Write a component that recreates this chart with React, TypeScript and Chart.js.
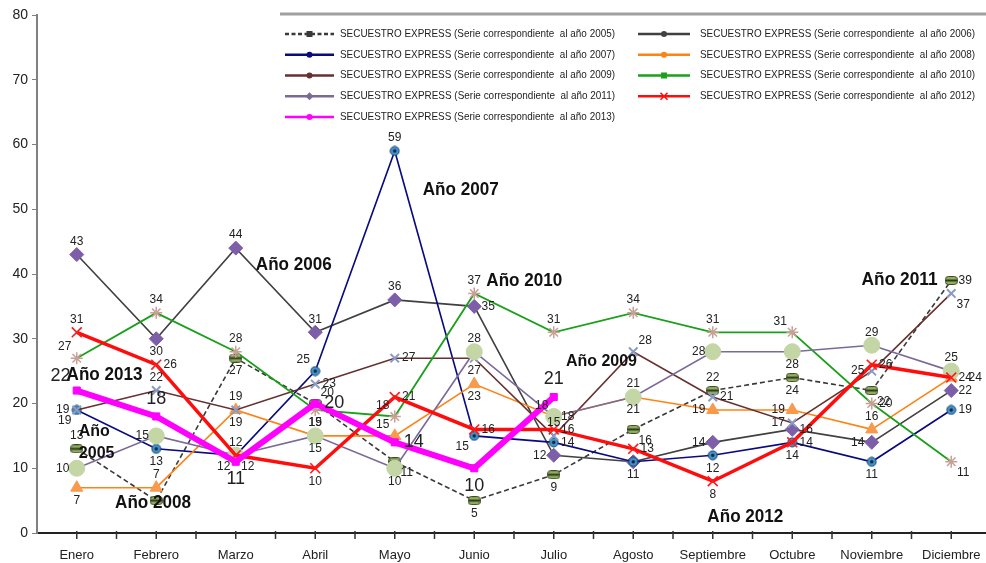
import React, { useEffect, useRef } from 'react';
import { Chart, registerables } from 'chart.js';
Chart.register(...registerables);

const months = ['Enero', 'Febrero', 'Marzo', 'Abril', 'Mayo', 'Junio', 'Julio', 'Agosto', 'Septiembre', 'Octubre', 'Noviembre', 'Diciembre'];
const years = ['2005', '2006', '2007', '2008', '2009', '2010', '2011', '2012', '2013'];

const s2005 = [13, 5, 27, 20, 11, 5, 9, 16, 22, 24, 22, 39];
const s2006 = [43, 30, 44, 31, 36, 35, 12, 11, 14, 16, 14, 22];
const s2007 = [19, 13, 12, 25, 59, 15, 14, 11, 12, 14, 11, 19];
const s2008 = [7, 7, 19, 15, 15, 23, 18, 21, 19, 19, 16, 24];
const s2009 = [19, 22, 19, 23, 27, 27, 15, 28, 21, 17, 25, 37];
const s2010 = [27, 34, 28, 19, 18, 37, 31, 34, 31, 31, 20, 11];
const s2011 = [10, 15, 12, 15, 10, 28, 18, 21, 28, 28, 29, 25];
const s2012 = [31, 26, 12, 10, 21, 16, 16, 13, 8, 14, 26, 24];
const s2013 = [22, 18, 11, 20, 14, 10, 21];

const allSeries = [s2005, s2006, s2007, s2008, s2009, s2010, s2011, s2012, s2013];

// label placement codes per point (styling)
const labelPos = [
  ['t', 'n', 'b', 'tr', 'br', 'b', 'b', 'br', 't', 'b', 'br', 'r'],
  ['t', 'b', 't', 't', 't', 'r', 'l', 'n', 'l', 'r', 'l', 'r'],
  ['bl', 'b', 't', 'tl', 't', 'bl', 'r', 'b', 'b', 'r', 'b', 'r'],
  ['b', 't', 'b', 'b', 'tl', 'b', 'tl', 'b', 'l', 'l', 't', 'rr'],
  ['l', 't', 't', 'r', 'r', 'b', 't', 'tr', 'r', 'l', 'l', 'br'],
  ['tl', 't', 't', 'b', 'tl', 't', 't', 't', 't', 'tl', 'r', 'br'],
  ['l', 'l', 'bl', 't', 'b', 't', 'r', 't', 'l', 'b', 't', 't'],
  ['t', 'r', 'br', 'b', 'r', 'r', 'r', 'r', 'b', 'b', 'r', 'r'],
  ['tl', 't', 'b', 'r', 'r', 'b', 't'],
];

const annotations = [
  { text: 'Año 2007', x: 4.83, y: 53.0, size: 19 },
  { text: 'Año 2006', x: 2.73, y: 41.4, size: 19 },
  { text: 'Año 2010', x: 5.63, y: 38.9, size: 19 },
  { text: 'Año 2009', x: 6.6, y: 26.4, size: 16 },
  { text: 'Año 2013', x: 0.35, y: 24.4, size: 19 },
  { text: 'Año', x: 0.22, y: 15.6, size: 16 },
  { text: '2005', x: 0.25, y: 12.3, size: 16 },
  { text: 'Año 2008', x: 0.96, y: 4.6, size: 19 },
  { text: 'Año 2012', x: 8.41, y: 2.5, size: 19 },
  { text: 'Año 2011', x: 10.35, y: 39.1, size: 19 },
];

const NARROW = '"Liberation Sans Narrow", "Arial Narrow", "Liberation Sans", Arial, sans-serif';

function makeBarMarker() {
  const c = document.createElement('canvas');
  c.width = 13; c.height = 9;
  const g = c.getContext('2d')!;
  g.fillStyle = '#8fae62';
  g.strokeStyle = '#3c4d24';
  g.lineWidth = 1;
  g.beginPath();
  (g as any).roundRect ? (g as any).roundRect(0.5, 0.5, 12, 8, 3) : g.rect(0.5, 0.5, 12, 8);
  g.fill(); g.stroke();
  g.fillStyle = '#2e3a1c';
  g.fillRect(1, 3.5, 11, 2);
  return c;
}
function makeDotMarker() {
  const c = document.createElement('canvas');
  c.width = 11; c.height = 11;
  const g = c.getContext('2d')!;
  g.beginPath(); g.arc(5.5, 5.5, 4.5, 0, Math.PI * 2);
  g.fillStyle = '#3f95cc'; g.fill();
  g.strokeStyle = '#1d3c6a'; g.lineWidth = 1; g.stroke();
  g.beginPath(); g.arc(5.5, 5.5, 1.7, 0, Math.PI * 2);
  g.fillStyle = '#10243c'; g.fill();
  return c;
}

const lineStyles = [
  { color: '#3a3a3a', width: 1.6, dash: [5, 3] },
  { color: '#404040', width: 1.6, dash: [] },
  { color: '#0a0a80', width: 1.6, dash: [] },
  { color: '#ff8214', width: 1.6, dash: [] },
  { color: '#663030', width: 1.6, dash: [] },
  { color: '#1aa01a', width: 1.8, dash: [] },
  { color: '#7a6a98', width: 1.6, dash: [] },
  { color: '#ff0d0d', width: 3.5, dash: [] },
  { color: '#ff00ff', width: 6, dash: [] },
];

const legendMarkers = ['square', 'dot', 'dot', 'dot', 'dot', 'square', 'diamond', 'x', 'dot'];

const offsets: Record<string, [number, number]> = {
  t: [0, -13], b: [0, 13], l: [-14, 0], r: [14, 0],
  tl: [-12, -11], tr: [12, -11], bl: [-12, 11], br: [12, 11], rr: [24, 0],
};

const valueLabelPlugin = {
  id: 'valueLabels',
  afterDatasetsDraw(chart: any) {
    const ctx = chart.ctx;
    ctx.save();
    ctx.fillStyle = '#222';
    ctx.textAlign = 'center';
    ctx.textBaseline = 'middle';
    chart.data.datasets.forEach((ds: any, di: number) => {
      const meta = chart.getDatasetMeta(di);
      const big = di === 8;
      ctx.font = (big ? '18px ' : '12px ') + NARROW;
      meta.data.forEach((pt: any, i: number) => {
        const code = labelPos[di][i];
        if (!code || code === 'n') return;
        const k = big ? 1.35 : 1;
        const [dx, dy] = offsets[code];
        ctx.fillText(String(ds.data[i]), pt.x + dx * k, pt.y + dy * k);
      });
    });
    ctx.restore();
  },
};

const annotationPlugin = {
  id: 'yearNotes',
  afterDatasetsDraw(chart: any) {
    const ctx = chart.ctx;
    const xs = chart.scales.x, ys = chart.scales.y;
    ctx.save();
    ctx.fillStyle = '#111';
    ctx.textAlign = 'center';
    ctx.textBaseline = 'middle';
    annotations.forEach((a) => {
      ctx.font = `bold ${a.size}px ${NARROW}`;
      const px = xs.getPixelForValue(a.x), py = ys.getPixelForValue(a.y);
      if (a.size >= 19) ctx.fillText(a.text, px, py, 76);
      else ctx.fillText(a.text, px, py);
    });
    ctx.restore();
  },
};

const axisTickPlugin = {
  id: 'xTicks',
  afterDraw(chart: any) {
    const ctx = chart.ctx;
    const xs = chart.scales.x;
    const b = chart.chartArea.bottom;
    ctx.save();
    ctx.strokeStyle = '#333';
    ctx.lineWidth = 1.5;
    for (let i = 0; i < months.length; i++) {
      const c = xs.getPixelForValue(i);
      const h = i < months.length - 1 ? (c + xs.getPixelForValue(i + 1)) / 2 : c + 40;
      [c, h].forEach((x) => {
        ctx.beginPath(); ctx.moveTo(x, b - 2); ctx.lineTo(x, b + 6); ctx.stroke();
      });
    }
    ctx.restore();
  },
};

const legendPlugin = {
  id: 'boxLegend',
  afterDraw(chart: any) {
    const ctx = chart.ctx;
    ctx.save();
    ctx.strokeStyle = '#a0a0a0';
    ctx.lineWidth = 3;
    ctx.beginPath(); ctx.moveTo(280, 14); ctx.lineTo(chart.width, 14); ctx.stroke();
    ctx.textBaseline = 'middle';
    ctx.textAlign = 'left';
    ctx.font = '10.5px ' + NARROW;
    years.forEach((yr, i) => {
      const col = i % 2, row = Math.floor(i / 2);
      const x0 = col ? 638 : 285, x1 = col ? 690 : 334, tx = col ? 700 : 340;
      const y = 34 + row * 20.75;
      const st = lineStyles[i];
      ctx.strokeStyle = st.color;
      ctx.lineWidth = 2.5;
      ctx.setLineDash(st.dash.length ? [4, 2.5] : []);
      ctx.beginPath(); ctx.moveTo(x0, y); ctx.lineTo(x1, y); ctx.stroke();
      ctx.setLineDash([]);
      const mx = (x0 + x1) / 2;
      ctx.fillStyle = st.color;
      const m = legendMarkers[i];
      if (m === 'square') ctx.fillRect(mx - 3, y - 3, 6, 6);
      else if (m === 'dot') { ctx.beginPath(); ctx.arc(mx, y, 3, 0, Math.PI * 2); ctx.fill(); }
      else if (m === 'diamond') { ctx.beginPath(); ctx.moveTo(mx, y - 4); ctx.lineTo(mx + 4, y); ctx.lineTo(mx, y + 4); ctx.lineTo(mx - 4, y); ctx.closePath(); ctx.fill(); }
      else if (m === 'x') { ctx.lineWidth = 1.5; ctx.beginPath(); ctx.moveTo(mx - 3.5, y - 3.5); ctx.lineTo(mx + 3.5, y + 3.5); ctx.moveTo(mx + 3.5, y - 3.5); ctx.lineTo(mx - 3.5, y + 3.5); ctx.stroke(); }
      ctx.fillStyle = '#222';
      ctx.fillText(`SECUESTRO EXPRESS (Serie correspondiente  al año ${yr})`, tx, y, 275);
    });
    ctx.restore();
  },
};

export default function App() {
  const ref = useRef<HTMLCanvasElement>(null);
  useEffect(() => {
    if (!ref.current) return;
    const bar = makeBarMarker();
    const dot = makeDotMarker();
    const pointCfg: any[] = [
      { pointStyle: bar, pointRadius: 5, pointBackgroundColor: '#8fae62', pointBorderColor: '#3c4d24', pointBorderWidth: 1 },
      { pointStyle: 'rectRot', pointRadius: 7, pointBackgroundColor: '#7d5ea8', pointBorderColor: '#7d5ea8', pointBorderWidth: 1 },
      { pointStyle: dot, pointRadius: 5, pointBackgroundColor: '#3f95cc', pointBorderColor: '#1d3c6a', pointBorderWidth: 1 },
      { pointStyle: 'triangle', pointRadius: 7, pointBackgroundColor: '#f79a4c', pointBorderColor: '#f79a4c', pointBorderWidth: 1 },
      { pointStyle: 'crossRot', pointRadius: 6, pointBackgroundColor: '#8a9cc4', pointBorderColor: '#8a9cc4', pointBorderWidth: 2 },
      { pointStyle: 'star', pointRadius: 6, pointBackgroundColor: '#c8a096', pointBorderColor: '#c8a096', pointBorderWidth: 1.5 },
      { pointStyle: 'circle', pointRadius: 8, pointBackgroundColor: '#c4d6a6', pointBorderColor: '#c4d6a6', pointBorderWidth: 1 },
      { pointStyle: 'crossRot', pointRadius: 7, pointBackgroundColor: '#ff1a1a', pointBorderColor: '#ff1a1a', pointBorderWidth: 1.6 },
      { pointStyle: 'rect', pointRadius: 5, pointBackgroundColor: '#ff00ff', pointBorderColor: '#ff00ff', pointBorderWidth: 1 },
    ];
    const datasets = allSeries.map((data, i) => ({
      label: `SECUESTRO EXPRESS (Serie correspondiente  al año ${years[i]})`,
      data,
      borderColor: lineStyles[i].color,
      borderWidth: lineStyles[i].width,
      borderDash: lineStyles[i].dash,
      tension: 0,
      fill: false,
      order: 8 - i,
      ...pointCfg[i],
    }));
    const chart = new Chart(ref.current, {
      type: 'line',
      data: { labels: months, datasets },
      options: {
        animation: false,
        responsive: false,
        devicePixelRatio: 1,
        layout: { padding: { top: 15, right: 3, left: 0, bottom: 0 } },
        plugins: { legend: { display: false }, tooltip: { enabled: false } },
        scales: {
          x: {
            offset: true,
            grid: { display: false },
            border: { display: true, color: '#222', width: 2 },
            ticks: { color: '#222', font: { family: NARROW, size: 13 }, padding: 7, maxRotation: 0, autoSkip: false },
            afterFit: (s: any) => { s.height = 30; },
          },
          y: {
            min: 0, max: 80,
            grid: { drawOnChartArea: false, drawTicks: true, tickLength: 5, color: '#808080' },
            border: { display: true, color: '#808080', width: 2 },
            ticks: { stepSize: 10, color: '#222', font: { family: NARROW, size: 14 }, padding: 4 },
            afterFit: (s: any) => { s.width = 37; },
          },
        },
      },
      plugins: [valueLabelPlugin, annotationPlugin, axisTickPlugin, legendPlugin],
    });
    return () => chart.destroy();
  }, []);
  return (
    <div style={{ position: 'absolute', left: 0, top: 0, width: 986, height: 563, overflow: 'hidden', background: '#fff' }}>
      <canvas ref={ref} width={1000} height={563} style={{ width: 1000, height: 563, display: 'block' }} />
    </div>
  );
}
